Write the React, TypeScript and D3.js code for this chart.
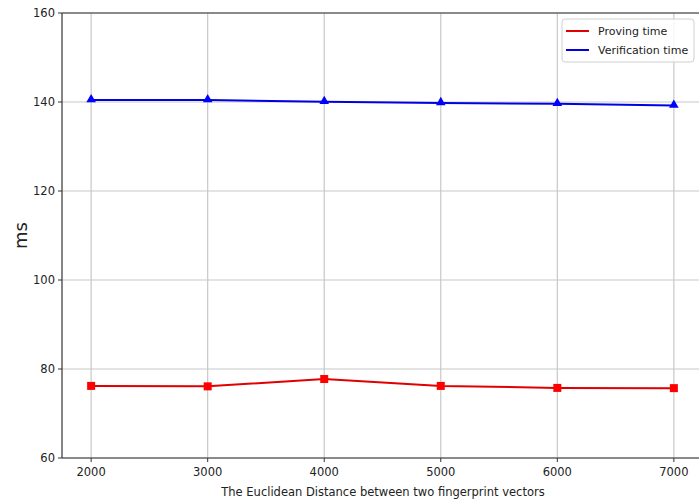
import React from "react";
import * as d3 from "d3";

const distances = [2000, 3000, 4000, 5000, 6000, 7000];
const provingTime = [76.2, 76.1, 77.75, 76.2, 75.75, 75.7];
const verificationTime = [140.45, 140.45, 140.05, 139.8, 139.6, 139.2];
const yTicks = [60, 80, 100, 120, 140, 160];
const xTicks = [2000, 3000, 4000, 5000, 6000, 7000];

const W = 699, H = 502;
const M = { left: 62, top: 13, right: 703, bottom: 458 };

export default function App() {
  const x = d3.scaleLinear().domain([1750, 7250]).range([M.left, M.right]);
  const y = d3.scaleLinear().domain([60, 160]).range([M.bottom, M.top]);
  const line = d3.line<number>().x((_, i) => x(distances[i])).y((d) => y(d));
  const font = "DejaVu Sans, sans-serif";
  const tri = d3.symbol().type(d3.symbolTriangle).size(40)();
  return (
    <svg width={W} height={H} style={{ position: "absolute", left: 0, top: 0 }} fontFamily={font}>
      <rect width={W} height={H} fill="#fff" />
      {yTicks.map((t) => (
        <g key={"y" + t}>
          <line x1={M.left} x2={M.right} y1={y(t)} y2={y(t)} stroke="#c8c8c8" strokeWidth={1.2} />
          <line x1={M.left - 4} x2={M.left} y1={y(t)} y2={y(t)} stroke="#333" strokeWidth={1} />
          <text x={M.left - 7} y={y(t)} dy="0.35em" textAnchor="end" fontSize={11.5} fill="#222">{t}</text>
        </g>
      ))}
      {xTicks.map((t) => (
        <g key={"x" + t}>
          <line x1={x(t)} x2={x(t)} y1={M.top} y2={M.bottom} stroke="#c8c8c8" strokeWidth={1.2} />
          <line x1={x(t)} x2={x(t)} y1={M.bottom} y2={M.bottom + 4} stroke="#333" strokeWidth={1} />
          <text x={x(t)} y={M.bottom + 18} textAnchor="middle" fontSize={11.5} fill="#222">{t}</text>
        </g>
      ))}
      <line x1={M.left} x2={M.right} y1={M.top} y2={M.top} stroke="#333" strokeWidth={1.2} />
      <line x1={M.left} x2={M.right} y1={M.bottom} y2={M.bottom} stroke="#333" strokeWidth={1.2} />
      <line x1={M.left} x2={M.left} y1={M.top} y2={M.bottom} stroke="#333" strokeWidth={1.2} />
      <path d={line(provingTime) || ""} fill="none" stroke="#e00000" strokeWidth={2} />
      {provingTime.map((v, i) => (
        <rect key={"p" + i} x={x(distances[i]) - 4} y={y(v) - 4} width={8} height={8} fill="#ff0000" />
      ))}
      <path d={line(verificationTime) || ""} fill="none" stroke="#0000e0" strokeWidth={2} />
      {verificationTime.map((v, i) => (
        <path key={"v" + i} d={tri || ""} transform={`translate(${x(distances[i])},${y(v) - 0.5})`} fill="#0000ff" />
      ))}
      <text x={383} y={496} textAnchor="middle" fontSize={11.5} fill="#222">
        The Euclidean Distance between two fingerprint vectors
      </text>
      <text transform={`translate(27,${(M.top + M.bottom) / 2}) rotate(-90)`} textAnchor="middle" fontSize={18} fill="#222">ms</text>
      <g>
        <rect x={562} y={19} width={132} height={43} rx={3} fill="#fff" fillOpacity={0.85} stroke="#d0d0d0" />
        <line x1={566} x2={589} y1={31} y2={31} stroke="#e00000" strokeWidth={2} />
        <text x={598} y={31} dy="0.35em" fontSize={11} fill="#222">Proving time</text>
        <line x1={566} x2={589} y1={50} y2={50} stroke="#0000e0" strokeWidth={2} />
        <text x={598} y={50} dy="0.35em" fontSize={11} fill="#222">Verification time</text>
      </g>
    </svg>
  );
}
